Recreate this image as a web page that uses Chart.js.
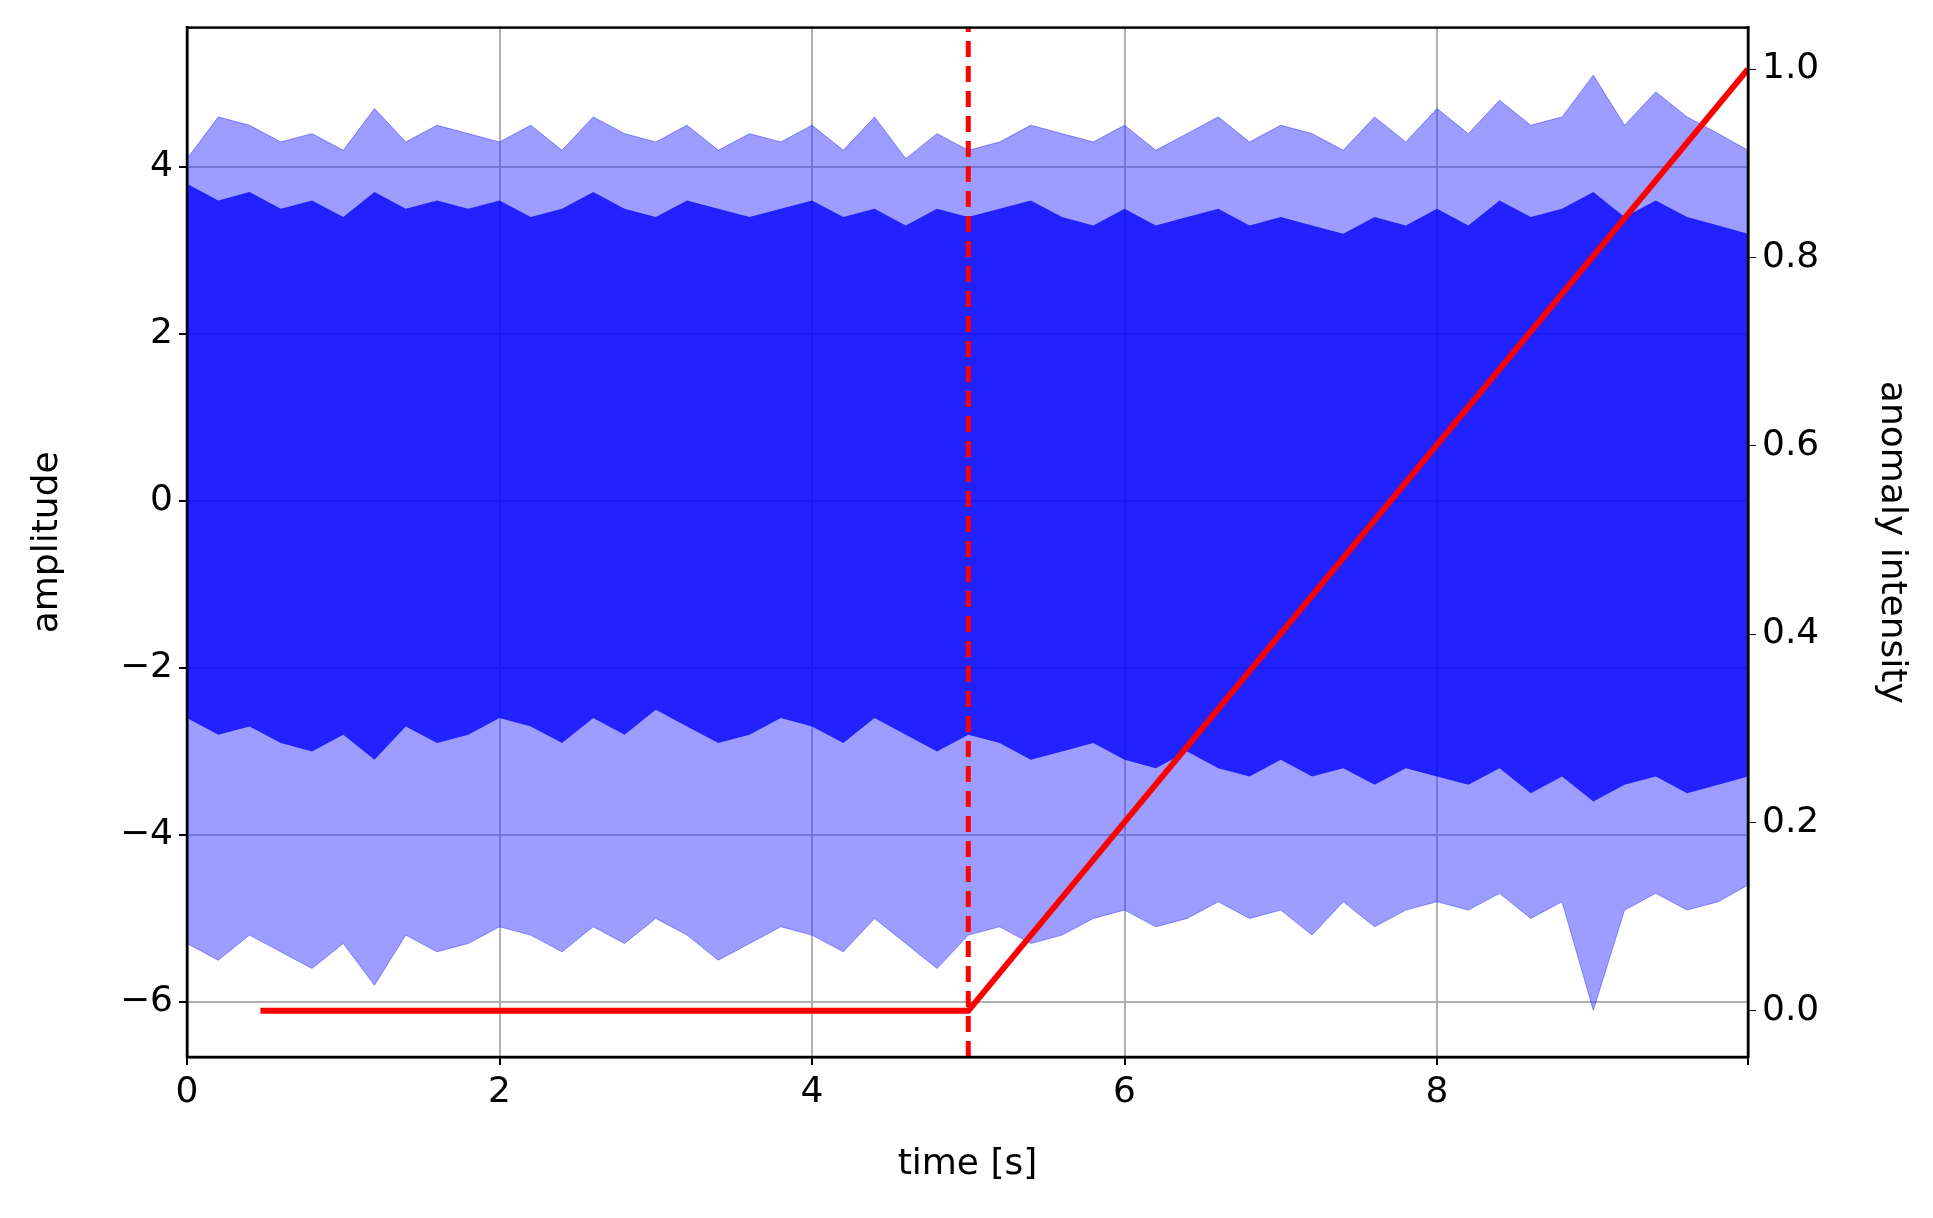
<!DOCTYPE html>
<html><head><meta charset="utf-8">
<script src="https://cdn.jsdelivr.net/npm/chart.js@4/dist/chart.umd.min.js"></script>
<style>html,body{margin:0;background:#fff}#w{width:1933px;height:1218px}</style>
</head><body><div id="w"><canvas id="c"></canvas></div>
<script>
const times=[0,0.2,0.4,0.6,0.8,1.0,1.2,1.4,1.6,1.8,2.0,2.2,2.4,2.6,2.8,3.0,3.2,3.4,3.6,3.8,4.0,4.2,4.4,4.6,4.8,5.0,5.2,5.4,5.6,5.8,6.0,6.2,6.4,6.6,6.8,7.0,7.2,7.4,7.6,7.8,8.0,8.2,8.4,8.6,8.8,9.0,9.2,9.4,9.6,9.8,9.99];
const outerHi=[4.1,4.6,4.5,4.3,4.4,4.2,4.7,4.3,4.5,4.4,4.3,4.5,4.2,4.6,4.4,4.3,4.5,4.2,4.4,4.3,4.5,4.2,4.6,4.1,4.4,4.2,4.3,4.5,4.4,4.3,4.5,4.2,4.4,4.6,4.3,4.5,4.4,4.2,4.6,4.3,4.7,4.4,4.8,4.5,4.6,5.1,4.5,4.9,4.6,4.4,4.2];
const outerLo=[-5.3,-5.5,-5.2,-5.4,-5.6,-5.3,-5.8,-5.2,-5.4,-5.3,-5.1,-5.2,-5.4,-5.1,-5.3,-5.0,-5.2,-5.5,-5.3,-5.1,-5.2,-5.4,-5.0,-5.3,-5.6,-5.2,-5.1,-5.3,-5.2,-5.0,-4.9,-5.1,-5.0,-4.8,-5.0,-4.9,-5.2,-4.8,-5.1,-4.9,-4.8,-4.9,-4.7,-5.0,-4.8,-6.1,-4.9,-4.7,-4.9,-4.8,-4.6];
const innerHi=[3.8,3.6,3.7,3.5,3.6,3.4,3.7,3.5,3.6,3.5,3.6,3.4,3.5,3.7,3.5,3.4,3.6,3.5,3.4,3.5,3.6,3.4,3.5,3.3,3.5,3.4,3.5,3.6,3.4,3.3,3.5,3.3,3.4,3.5,3.3,3.4,3.3,3.2,3.4,3.3,3.5,3.3,3.6,3.4,3.5,3.7,3.4,3.6,3.4,3.3,3.2];
const innerLo=[-2.6,-2.8,-2.7,-2.9,-3.0,-2.8,-3.1,-2.7,-2.9,-2.8,-2.6,-2.7,-2.9,-2.6,-2.8,-2.5,-2.7,-2.9,-2.8,-2.6,-2.7,-2.9,-2.6,-2.8,-3.0,-2.8,-2.9,-3.1,-3.0,-2.9,-3.1,-3.2,-3.0,-3.2,-3.3,-3.1,-3.3,-3.2,-3.4,-3.2,-3.3,-3.4,-3.2,-3.5,-3.3,-3.6,-3.4,-3.3,-3.5,-3.4,-3.3];
const rampX=[0.47,5.0,9.99];
const rampY=[0,0,1];
const markerX=5.0;
const ampTicks=[-6,-4,-2,0,2,4];
const pts=(xs,ys)=>xs.map((x,i)=>({x,y:ys[i]}));
const F='DejaVu Sans';
const frame={id:'frame',afterDatasetsDraw(ch){const a=ch.chartArea,c=ch.ctx;c.save();c.strokeStyle='#000';c.lineWidth=2.5;c.strokeRect(a.left,a.top,a.right-a.left,a.bottom-a.top);c.restore();}};
new Chart(document.getElementById('c'),{
type:'line',
data:{datasets:[
{data:pts(times,outerHi),yAxisID:'y',borderWidth:0.8,borderColor:'rgba(0,0,255,0.5)',backgroundColor:'rgba(60,60,255,0.5)',fill:'+1',pointRadius:0,tension:0,order:5},
{data:pts(times,outerLo),yAxisID:'y',borderWidth:0.8,borderColor:'rgba(0,0,255,0.5)',pointRadius:0,fill:false,tension:0,order:5},
{data:pts(times,innerHi),yAxisID:'y',borderWidth:0,backgroundColor:'rgba(0,0,255,0.78)',fill:'+1',pointRadius:0,tension:0,order:4},
{data:pts(times,innerLo),yAxisID:'y',borderWidth:0,pointRadius:0,fill:false,tension:0,order:4},
{data:[{x:markerX,y:-6.66},{x:markerX,y:5.67}],yAxisID:'y',borderColor:'#ff0000',borderWidth:5,borderDash:[16,9],pointRadius:0,fill:false,order:1},
{data:pts(rampX,rampY),yAxisID:'y1',borderColor:'#ff0000',borderWidth:6,pointRadius:0,fill:false,tension:0,order:0}
]},
options:{responsive:true,maintainAspectRatio:false,animation:false,
layout:{padding:{top:21,left:22,right:16,bottom:28}},
plugins:{legend:{display:false},tooltip:{enabled:false}},
scales:{
x:{type:'linear',min:0,max:9.99,
 afterFit(s){s.height=133;},
 ticks:{stepSize:2,font:{family:F,size:36},color:'#000',padding:6,callback:v=>v%2===0?String(v):''},
 grid:{color:'#b0b0b0',lineWidth:2,tickLength:8,tickColor:'#000'},
 border:{color:'#000',width:2.5},
 title:{display:true,text:'time [s]',font:{family:F,size:36},color:'#000',padding:{top:4}}},
y:{position:'left',min:-6.66,max:5.67,
 afterFit(s){s.width=165;},
 afterBuildTicks(s){s.ticks=ampTicks.map(v=>({value:v}));},
 ticks:{font:{family:F,size:36},color:'#000',padding:6,callback:v=>v<0?'\u2212'+Math.abs(v):String(v)},
 grid:{color:'#b0b0b0',lineWidth:2,tickLength:8,tickColor:'#000'},
 border:{color:'#000',width:2.5},
 title:{display:true,text:'amplitude',font:{family:F,size:36},color:'#000'}},
y1:{position:'right',min:-0.049,max:1.044,
 afterFit(s){s.width=169;},
 afterBuildTicks(s){s.ticks=[0,0.2,0.4,0.6,0.8,1.0].map(v=>({value:v}));},
 ticks:{font:{family:F,size:36},color:'#000',padding:6,callback:v=>v.toFixed(1)},
 grid:{drawOnChartArea:false,tickLength:8,tickColor:'#000'},
 border:{color:'#000',width:2.5},
 title:{display:true,text:'anomaly intensity',font:{family:F,size:36},color:'#000'}}
}},
plugins:[frame]});
</script></body></html>
